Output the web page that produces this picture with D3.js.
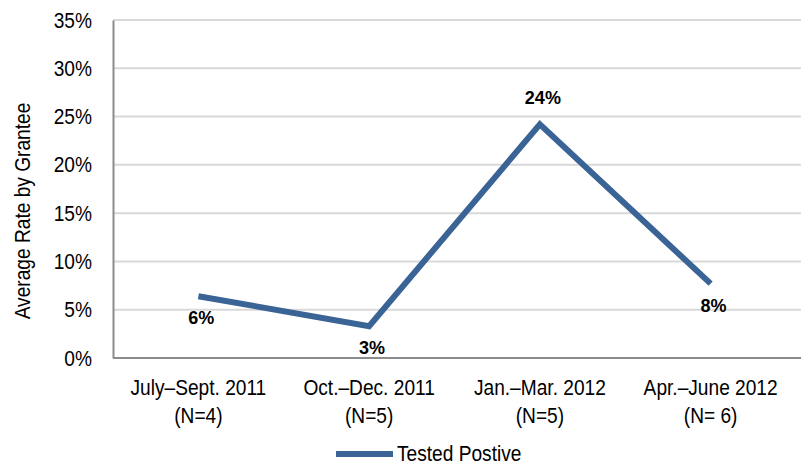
<!DOCTYPE html>
<html>
<head>
<meta charset="utf-8">
<script src="https://cdn.jsdelivr.net/npm/d3@7"></script>
<style>
  html, body { margin: 0; padding: 0; background: #fff; }
  svg { display: block; }
</style>
</head>
<body>
<svg id="chart" width="801" height="470"></svg>
<script>
// ---- data ----
const categories = ["July–Sept. 2011", "Oct.–Dec. 2011", "Jan.–Mar. 2012", "Apr.–June 2012"];
const sampleSizes = ["(N=4)", "(N=5)", "(N=5)", "(N= 6)"];
const testedPositive = [6.4, 3.3, 24.2, 7.7];
const dataLabels = ["6%", "3%", "24%", "8%"];
const yTicks = [0, 5, 10, 15, 20, 25, 30, 35];
const seriesName = "Tested Postive";
const yTitle = "Average Rate by Grantee";

// ---- layout ----
const plot = { left: 113, right: 796, top: 20, bottom: 358, gridRight: 801 };
const lineColor = "#3b6496";
const labelPlacement = ["below", "below", "above", "below"];
const FONT = '"Liberation Sans", Arial, sans-serif';
const NARROW = 0.87;   // horizontal squeeze to mimic a narrow face
const FS = "22px";

const svg = d3.select("#chart");

const x = d3.scaleBand().domain(categories).range([plot.left, plot.right]).padding(0);
const y = d3.scaleLinear().domain([0, 35]).range([plot.bottom, plot.top]);

// gridlines
svg.append("g")
  .selectAll("line")
  .data(yTicks.filter(t => t > 0))
  .join("line")
  .attr("x1", plot.left).attr("x2", plot.gridRight)
  .attr("y1", d => y(d)).attr("y2", d => y(d))
  .attr("stroke", "#d9d9d9").attr("stroke-width", 2);

// y axis
const yAxis = svg.append("g")
  .attr("transform", `translate(${plot.left},0)`)
  .call(d3.axisLeft(y).tickValues(yTicks).tickFormat(d => d + "%").tickSize(0).tickPadding(21));
yAxis.select(".domain").attr("stroke", "#8c8c8c").attr("stroke-width", 2);
yAxis.selectAll("text")
  .attr("x", 0)
  .attr("transform", `translate(-21,0) scale(${NARROW},1)`)
  .style("font-family", FONT)
  .style("font-size", FS).attr("fill", "#000");

// x axis
const xAxis = svg.append("g")
  .attr("transform", `translate(0,${plot.bottom})`)
  .call(d3.axisBottom(x).tickSize(0).tickFormat(""));
xAxis.select(".domain").attr("d", `M${plot.left},0H${plot.gridRight}`)
  .attr("stroke", "#8c8c8c").attr("stroke-width", 2);
xAxis.selectAll(".tick").each(function(d, i) {
  const t = d3.select(this).append("text")
    .attr("text-anchor", "middle")
    .attr("transform", `scale(${NARROW},1)`)
    .attr("fill", "#000")
    .style("font-family", FONT)
    .style("font-size", FS);
  t.append("tspan").attr("x", 0).attr("y", 37).text(categories[i]);
  t.append("tspan").attr("x", 0).attr("y", 65).text(sampleSizes[i]);
});

// y title
svg.append("text")
  .attr("transform", `translate(30,211) rotate(-90) scale(${NARROW},1)`)
  .attr("text-anchor", "middle")
  .style("font-family", FONT)
  .style("font-size", FS)
  .attr("fill", "#000")
  .text(yTitle);

// line
const cx = d => x(d) + x.bandwidth() / 2;
const line = d3.line()
  .x((d, i) => cx(categories[i]))
  .y(d => y(d));
svg.append("path")
  .datum(testedPositive)
  .attr("d", line)
  .attr("fill", "none")
  .attr("stroke", lineColor)
  .attr("stroke-width", 6)
  .attr("stroke-linejoin", "miter");

// data labels
svg.append("g")
  .selectAll("text")
  .data(testedPositive)
  .join("text")
  .attr("x", (d, i) => cx(categories[i]) + 3)
  .attr("y", (d, i) => labelPlacement[i] === "above" ? y(d) - 20 : y(d) + 28)
  .attr("text-anchor", "middle")
  .style("font-family", FONT)
  .style("font-weight", "bold")
  .style("font-size", "18px")
  .attr("fill", "#000")
  .text((d, i) => dataLabels[i]);

// legend
const lg = svg.append("g");
lg.append("line")
  .attr("x1", 336).attr("x2", 393).attr("y1", 454).attr("y2", 454)
  .attr("stroke", lineColor).attr("stroke-width", 6);
lg.append("text")
  .attr("transform", `translate(397,461) scale(${NARROW},1)`)
  .style("font-family", FONT)
  .style("font-size", FS)
  .attr("fill", "#000")
  .text(seriesName);
</script>
</body>
</html>
